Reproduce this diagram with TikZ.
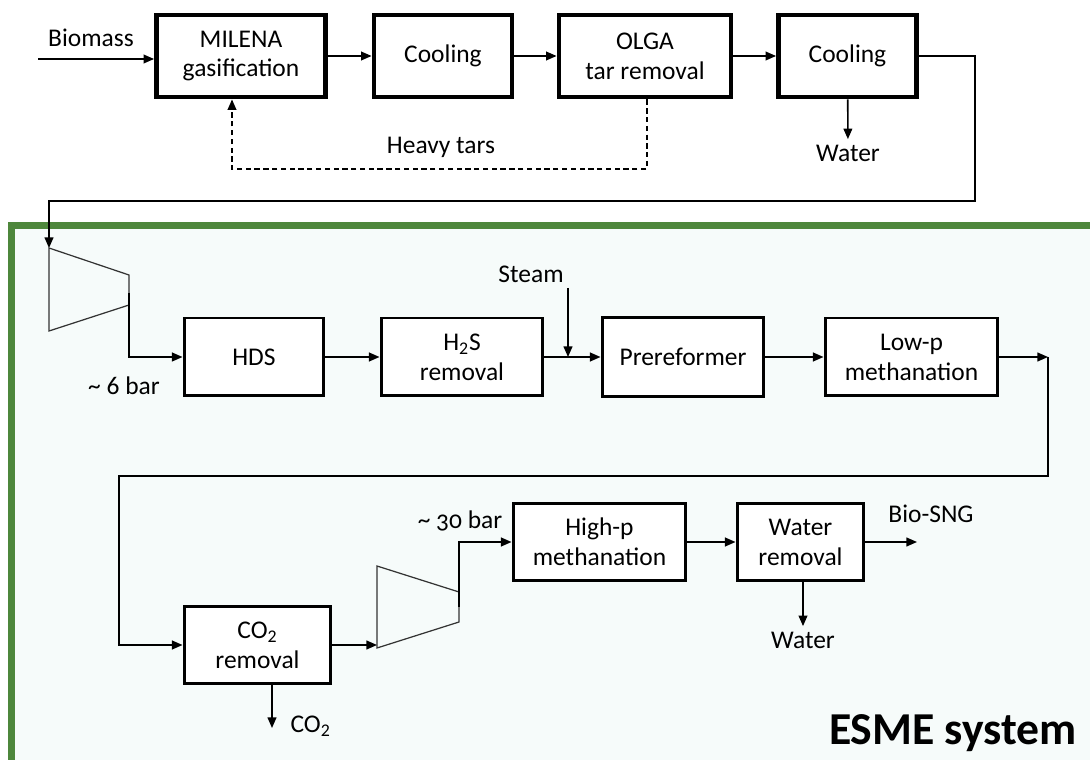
\documentclass[tikz,border=0pt]{standalone}
\usepackage{fontspec}
\setmainfont{Carlito}
\usepackage{tikz}
\usetikzlibrary{arrows.meta}
\definecolor{esmegreen}{RGB}{78,135,60}
\definecolor{esmefill}{RGB}{246,251,250}

\begin{document}
\begin{tikzpicture}[x=0.02cm,y=-0.02cm,
  font=\fontsize{14.5}{17}\selectfont,
  mainunit/.style={draw, line width=2.8pt, fill=white, align=center, inner sep=0pt, minimum height=1.64cm},
  subunit/.style={draw, line width=1.7pt, fill=white, align=center, inner sep=0pt, minimum height=1.56cm},
  flow/.style={line width=0.9pt, -{Triangle[length=6pt,width=5pt]}},
  tarflow/.style={flow, dash pattern=on 3pt off 2pt},
  compr/.style={line width=0.7pt, draw=black!80},
  lbl/.style={inner sep=3pt}]

% --- CANVAS ---
\useasboundingbox (0,0) rectangle (1090,760);
\fill[white] (0,0) rectangle (1090,760);
\draw[line width=4pt, draw=esmegreen, fill=esmefill] (11.5,225.5) rectangle (1110,790);

% --- GASIFICATION LINE ---
\node[mainunit, minimum width=3.38cm] (milena) at (241,56) {MILENA\\gasification};
\node[mainunit, minimum width=2.76cm] (cool1) at (443,56) {Cooling};
\node[mainunit, minimum width=3.44cm] (olga) at (645,56) {OLGA\\tar removal};
\node[mainunit, minimum width=2.76cm] (cool2) at (847.5,56) {Cooling};

\node[lbl] (biomass) at (91,38) {Biomass};
\coordinate (bioin) at (38,59);
\draw[flow] (bioin) -- (bioin -| milena.west);
\draw[flow] (milena) -- (cool1);
\draw[flow] (cool1) -- (olga);
\draw[flow] (olga) -- (cool2);

\node[lbl] (water1) at (848,153) {Water};
\draw[flow] (cool2) -- (water1);

% heavy tars back to the gasifier
\coordinate (tarsR) at (647,169);
\coordinate (tarsL) at (232,169);
\draw[tarflow] (olga.south -| tarsR) -- (tarsR) -- (tarsL) -- (milena.south -| tarsL);
\node[lbl] (tars) at (441,147) {Heavy tars};

% --- ESME SYSTEM: FIRST ROW ---
\node[subunit, minimum width=2.80cm] (hds) at (254,357) {HDS};
\node[subunit, minimum width=3.24cm] (h2s) at (462,357) {H\textsubscript{2}S\\removal};
\node[subunit, minimum width=3.24cm, minimum height=1.58cm] (prer) at (683,357) {Prereformer};
\node[subunit, minimum width=3.46cm] (lowp) at (911.5,357) {Low-p\\methanation};

% gas to the first compressor
\coordinate (ret1) at (975,56);
\coordinate (ret2) at (975,201);
\coordinate (ret3) at (49,201);
\coordinate (c1in) at (49,248);
\draw[flow] (cool2) -- (ret1) -- (ret2) -- (ret3) -- (c1in);

\draw[compr] (c1in) -- (129,275) -- (129,305) -- (49,331) -- cycle;
\coordinate (c1out) at (129,293);
\draw[flow] (c1out) |- (hds);
\node[lbl] (p6) at (124,386) {\textasciitilde{} 6 bar};

\draw[flow] (hds) -- (h2s);
\draw[flow] (h2s) -- (prer);
\draw[flow] (prer) -- (lowp);

\node[lbl] (steam) at (531,274) {Steam};
\coordinate (steamin) at (568,357);
\draw[flow] (steam.south -| steamin) -- (steamin);

% --- ESME SYSTEM: SECOND ROW ---
\node[subunit, minimum width=2.94cm] (co2) at (257.5,645) {CO\textsubscript{2}\\removal};
\node[subunit, minimum width=3.46cm] (highp) at (599.5,542) {High-p\\methanation};
\node[subunit, minimum width=2.54cm] (wrem) at (800.5,542) {Water\\removal};

\coordinate (ret4) at (1048,357);
\coordinate (ret5) at (119,476);
\draw[flow] (lowp) -- (ret4);
\draw[flow] (ret4) -- (ret4 |- ret5) -- (ret5) |- (co2);

\node[lbl, anchor=west] (co2out) at (285,726) {CO\textsubscript{2}};
\coordinate (co2tip) at (272,728);
\draw[flow] (co2.south -| co2tip) -- (co2tip);

% second compressor
\coordinate (c2in) at (377,645);
\draw[compr] (377,566) -- (459,592) -- (459,622) -- (377,648) -- cycle;
\draw[flow] (co2) -- (c2in);
\coordinate (c2out) at (459,607);
\draw[flow] (c2out) |- (highp);
\node[lbl] (p30) at (460,521) {\textasciitilde{} {\addfontfeatures{Numbers=OldStyle}30} bar};

\draw[flow] (highp) -- (wrem);
\coordinate (sngout) at (917,542);
\draw[flow] (wrem) -- (sngout);
\node[lbl] (sng) at (931,514) {Bio-SNG};

\node[lbl] (water2) at (803,640) {Water};
\draw[flow] (wrem.south -| water2) -- (water2);

\node[lbl, anchor=base, font=\fontsize{26}{30}\selectfont\bfseries] (esme) at (953,745) {ESME system};
\end{tikzpicture}
\end{document}
